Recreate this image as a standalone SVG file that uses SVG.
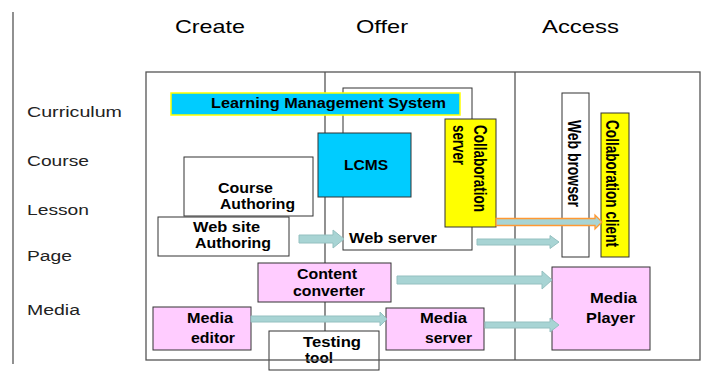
<svg xmlns="http://www.w3.org/2000/svg" width="704" height="374" viewBox="0 0 704 374">
<style>
text{font-family:"Liberation Sans",Arial,sans-serif;fill:#000}
.hdr{font-size:19px}
.row{font-size:14px;fill:#222}
.lbl{font-size:14px;font-weight:bold}
.box{stroke:#333;stroke-width:1}
.white{fill:#fff}
.pink{fill:#ffccff}
.cyan{fill:#00ccff}
.yellow{fill:#ffff00}
.frame{fill:none;stroke:#555;stroke-width:1.3}
.arrow{fill:#a8d4d4;stroke:#94c0c0;stroke-width:1}
.arrow-o{fill:#a8d4d4;stroke:#ff9933;stroke-width:1.3}
</style>
<line x1="13" y1="12" x2="13" y2="364" stroke="#555" stroke-width="1.3"/>
<g id="headers">
<text class="hdr" x="175" y="33" textLength="70" lengthAdjust="spacingAndGlyphs">Create</text>
<text class="hdr" x="356" y="33" textLength="52" lengthAdjust="spacingAndGlyphs">Offer</text>
<text class="hdr" x="542" y="33" textLength="77" lengthAdjust="spacingAndGlyphs">Access</text>
</g>
<g id="rows">
<text class="row" x="27" y="117" textLength="95" lengthAdjust="spacingAndGlyphs">Curriculum</text>
<text class="row" x="27" y="166" textLength="62" lengthAdjust="spacingAndGlyphs">Course</text>
<text class="row" x="27" y="215" textLength="62" lengthAdjust="spacingAndGlyphs">Lesson</text>
<text class="row" x="27" y="261" textLength="45" lengthAdjust="spacingAndGlyphs">Page</text>
<text class="row" x="27" y="315" textLength="53" lengthAdjust="spacingAndGlyphs">Media</text>
</g>
<g id="dividers">
<line class="frame" x1="325" y1="72" x2="325" y2="360"/>
<line class="frame" x1="515" y1="72" x2="515" y2="360"/>
</g>
<g id="web-server">
<rect class="box white" x="343" y="88" width="129" height="162"/>
<text class="lbl" x="349" y="243" textLength="88" lengthAdjust="spacingAndGlyphs">Web server</text>
</g>
<g id="lms">
<rect x="171" y="93" width="289" height="22" fill="#00ccff" stroke="#ffff00" stroke-width="1.5"/>
<text class="lbl" x="211" y="108" textLength="235" lengthAdjust="spacingAndGlyphs">Learning Management System</text>
</g>
<g id="lcms">
<rect class="box cyan" x="318" y="133" width="93" height="64"/>
<text class="lbl" x="344" y="170" textLength="44" lengthAdjust="spacingAndGlyphs">LCMS</text>
</g>
<g id="collaboration-server">
<rect class="box yellow" x="445" y="119" width="51" height="108"/>
<g transform="translate(474,125) scale(1.3,1) rotate(90)">
<text class="lbl" x="0" y="0" textLength="87" lengthAdjust="spacingAndGlyphs">Collaboration</text>
<text class="lbl" x="0" y="16" textLength="40" lengthAdjust="spacingAndGlyphs">server</text>
</g>
</g>
<g id="course-authoring">
<rect class="box white" x="184" y="157" width="129" height="59"/>
<text class="lbl" x="218" y="193" textLength="55" lengthAdjust="spacingAndGlyphs">Course</text>
<text class="lbl" x="220" y="209" textLength="75" lengthAdjust="spacingAndGlyphs">Authoring</text>
</g>
<g id="web-site-authoring">
<rect class="box white" x="158" y="217" width="131" height="39"/>
<text class="lbl" x="193" y="232" textLength="67" lengthAdjust="spacingAndGlyphs">Web site</text>
<text class="lbl" x="195" y="248" textLength="76" lengthAdjust="spacingAndGlyphs">Authoring</text>
</g>
<g id="web-browser">
<rect class="box white" x="562" y="93" width="27" height="164"/>
<g transform="translate(568,120) scale(1.3,1) rotate(90)">
<text class="lbl" x="0" y="0" textLength="87" lengthAdjust="spacingAndGlyphs">Web browser</text>
</g>
</g>
<g id="collaboration-client">
<rect class="box yellow" x="601" y="113" width="28" height="144"/>
<g transform="translate(606,120) scale(1.3,1) rotate(90)">
<text class="lbl" x="0" y="0" textLength="127" lengthAdjust="spacingAndGlyphs">Collaboration client</text>
</g>
</g>
<g id="content-converter">
<rect class="box pink" x="258" y="263" width="133" height="39"/>
<text class="lbl" x="297" y="279" textLength="60" lengthAdjust="spacingAndGlyphs">Content</text>
<text class="lbl" x="293" y="296" textLength="72" lengthAdjust="spacingAndGlyphs">converter</text>
</g>
<g id="media-editor">
<rect class="box pink" x="153" y="307" width="98" height="43"/>
<text class="lbl" x="187" y="323" textLength="46" lengthAdjust="spacingAndGlyphs">Media</text>
<text class="lbl" x="191" y="343" textLength="44" lengthAdjust="spacingAndGlyphs">editor</text>
</g>
<g id="testing-tool">
<rect class="box white" x="269" y="331" width="110" height="39"/>
<text class="lbl" x="303" y="347" textLength="58" lengthAdjust="spacingAndGlyphs">Testing</text>
<text class="lbl" x="305" y="363" textLength="28" lengthAdjust="spacingAndGlyphs">tool</text>
</g>
<g id="media-server">
<rect class="box pink" x="386" y="308" width="98" height="42"/>
<text class="lbl" x="420" y="323" textLength="47" lengthAdjust="spacingAndGlyphs">Media</text>
<text class="lbl" x="425" y="343" textLength="47" lengthAdjust="spacingAndGlyphs">server</text>
</g>
<g id="media-player">
<rect class="box pink" x="552" y="267" width="98" height="83"/>
<text class="lbl" x="590" y="303" textLength="47" lengthAdjust="spacingAndGlyphs">Media</text>
<text class="lbl" x="586" y="323" textLength="49" lengthAdjust="spacingAndGlyphs">Player</text>
</g>
<g id="connectors">
<polygon class="arrow" points="299,235 333,235 333,230 344,239 333,248 333,243 299,243"/>
<polygon class="arrow" points="477,239 550,239 550,235.5 559,242 550,248.5 550,245 477,245"/>
<polygon class="arrow-o" points="496,218.5 595,218.5 595,215 602,222 595,229 595,225.5 496,225.5"/>
<polygon class="arrow" points="397,276 542,276 542,271 552,280 542,289 542,284 397,284"/>
<polygon class="arrow" points="251,316 380,316 380,312 387,319 380,326 380,322 251,322"/>
<polygon class="arrow" points="485,322 550,322 550,318 559,325 550,332 550,328 485,328"/>
</g>
<rect id="frame" class="frame" x="146" y="72" width="554" height="288"/>
</svg>
